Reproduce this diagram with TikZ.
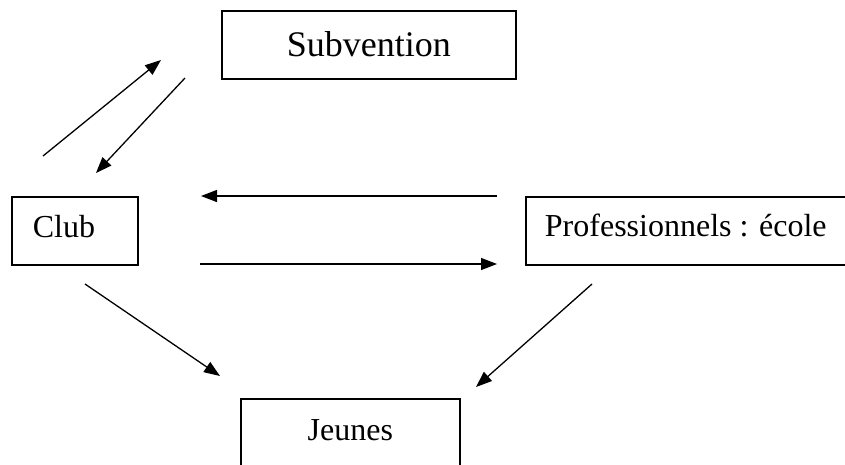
\documentclass[tikz,border=0pt]{standalone}
\usepackage{fontspec}
\setmainfont{Liberation Serif}
\usetikzlibrary{arrows.meta}
\begin{document}
\begin{tikzpicture}[x=1pt,y=-1pt,
  box/.style={draw, line width=1.6pt, inner sep=0pt, anchor=north west, font=\fontsize{32}{36}\selectfont},
  link/.style={line width=1.3pt, -{Triangle[length=16pt,width=12pt]}}]
\useasboundingbox (0,0) rectangle (845,464);
\clip (0,0) rectangle (845,464);
\node[box, minimum width=294pt, minimum height=68pt, font=\fontsize{36}{40}\selectfont, text height=24pt, text depth=0pt] (sub) at (221,10) {Subvention};
\node[box, minimum width=126pt, minimum height=68pt, text width=84pt, align=left, inner xsep=21pt, text height=21pt, text depth=8pt] (club) at (11,196) {Club};
\node[box, minimum width=320pt, minimum height=68pt, text height=21pt, text depth=10pt] (prof) at (525,196) {Professionnels : école};
\node[box, minimum width=219pt, minimum height=70pt, text height=21pt, text depth=8pt] (jeu) at (240,398) {Jeunes};
\coordinate (a1) at (43,156);  \coordinate (a2) at (161,60);
\coordinate (b1) at (185,78);  \coordinate (b2) at (96,173);
\coordinate (c1) at (497,196); \coordinate (c2) at (201,196);
\coordinate (d1) at (200,264); \coordinate (d2) at (497,264);
\coordinate (e1) at (85,284);  \coordinate (e2) at (220,376);
\coordinate (f1) at (592,284); \coordinate (f2) at (476,387);
\draw[link] (a1) -- (a2);
\draw[link] (b1) -- (b2);
\draw[link] (c1) -- (c2);
\draw[link] (d1) -- (d2);
\draw[link] (e1) -- (e2);
\draw[link] (f1) -- (f2);
\end{tikzpicture}
\end{document}
